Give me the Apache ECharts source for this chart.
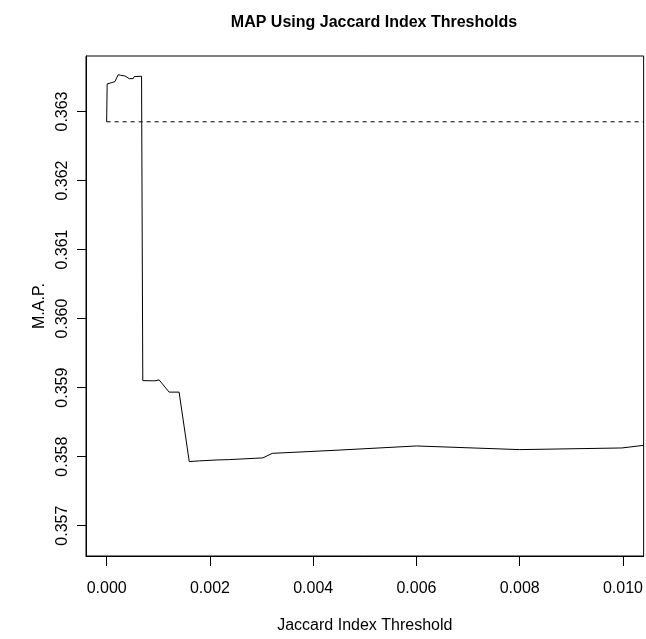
<!DOCTYPE html>
<html>
<head>
<meta charset="utf-8">
<script src="https://cdn.jsdelivr.net/npm/echarts@6/dist/echarts.min.js"></script>
<style>
html,body{margin:0;padding:0;background:#fff;}
#chart{width:646px;height:639px;}
</style>
</head>
<body>
<div id="chart"></div>
<script>
// Data
var thresholds = [0, 0.00001, 0.0001, 0.00016, 0.00018, 0.000224, 0.00027, 0.000354, 0.000437, 0.000514, 0.000533, 0.000676, 0.0007, 0.0007, 0.000933, 0.001016, 0.00121, 0.001403, 0.0016, 0.0018, 0.002156, 0.002363, 0.002382, 0.003026, 0.003207, 0.0045, 0.006, 0.008, 0.00998, 0.0104];
var mapValues = [0.362851, 0.3634, 0.363419, 0.363433, 0.36341, 0.363534, 0.363525, 0.363515, 0.363476, 0.363476, 0.363505, 0.363511, 0.363511, 0.359102, 0.359098, 0.359112, 0.358935, 0.358935, 0.357929, 0.357939, 0.357953, 0.357957, 0.357976, 0.357982, 0.358048, 0.358095, 0.358155, 0.358102, 0.358126, 0.358164];
var baselineValue = 0.362851;
var baselineX = [0, 0.0104];
var xTicks = [0, 0.002, 0.004, 0.006, 0.008, 0.010];
var yTicks = [0.357, 0.358, 0.359, 0.360, 0.361, 0.362, 0.363];

var FONT = 'Liberation Sans, Arial, Helvetica, sans-serif';
var chart = echarts.init(document.getElementById('chart'), null, {renderer: 'canvas'});

var mainData = thresholds.map(function (x, i) { return [x, mapValues[i]]; });
var baseData = baselineX.map(function (x) { return [x, baselineValue]; });

chart.setOption({
  animation: false,
  backgroundColor: '#ffffff',
  title: {
    text: 'MAP Using Jaccard Index Thresholds',
    left: 369,
    textAlign: 'center',
    top: 10,
    textStyle: {fontFamily: FONT, fontWeight: 'bold', fontSize: 16, color: '#000'}
  },
  grid: {
    left: 86, right: 1, top: 56, bottom: 81,
    show: true, borderColor: '#000', borderWidth: 1, backgroundColor: 'transparent',
    containLabel: false
  },
  xAxis: {
    type: 'value',
    min: -0.0004, max: 0.0104,
    name: 'Jaccard Index Threshold',
    nameLocation: 'middle',
    nameGap: 62,
    nameTextStyle: {fontFamily: FONT, fontSize: 16, color: '#000'},
    axisLine: {show: true, onZero: false, lineStyle: {color: '#000', width: 1}},
    axisTick: {show: true, length: 10, customValues: xTicks, lineStyle: {color: '#000'}},
    axisLabel: {
      customValues: xTicks,
      margin: 25,
      fontFamily: FONT, fontSize: 16, color: '#000',
      formatter: function (v) { return v.toFixed(3); }
    },
    splitLine: {show: false}
  },
  yAxis: {
    type: 'value',
    min: 0.356561, max: 0.363804,
    name: 'M.A.P.',
    nameLocation: 'middle',
    nameGap: 34,
    nameRotate: 90,
    nameTextStyle: {fontFamily: FONT, fontSize: 16, color: '#000'},
    axisLine: {show: true, onZero: false, lineStyle: {color: '#000', width: 1}},
    axisTick: {show: true, length: 9, customValues: yTicks, lineStyle: {color: '#000'}},
    axisLabel: {
      customValues: yTicks,
      rotate: 90,
      margin: 15,
      fontFamily: FONT, fontSize: 16, color: '#000',
      formatter: function (v) { return v.toFixed(3); }
    },
    splitLine: {show: false}
  },
  series: [
    {
      type: 'line',
      data: baseData,
      showSymbol: false,
      symbol: 'none',
      clip: true,
      lineStyle: {color: '#000', width: 1, type: [4, 4]},
      silent: true
    },
    {
      type: 'line',
      data: mainData,
      showSymbol: false,
      symbol: 'none',
      clip: true,
      lineStyle: {color: '#000', width: 1},
      silent: true
    }
  ]
});
</script>
</body>
</html>
